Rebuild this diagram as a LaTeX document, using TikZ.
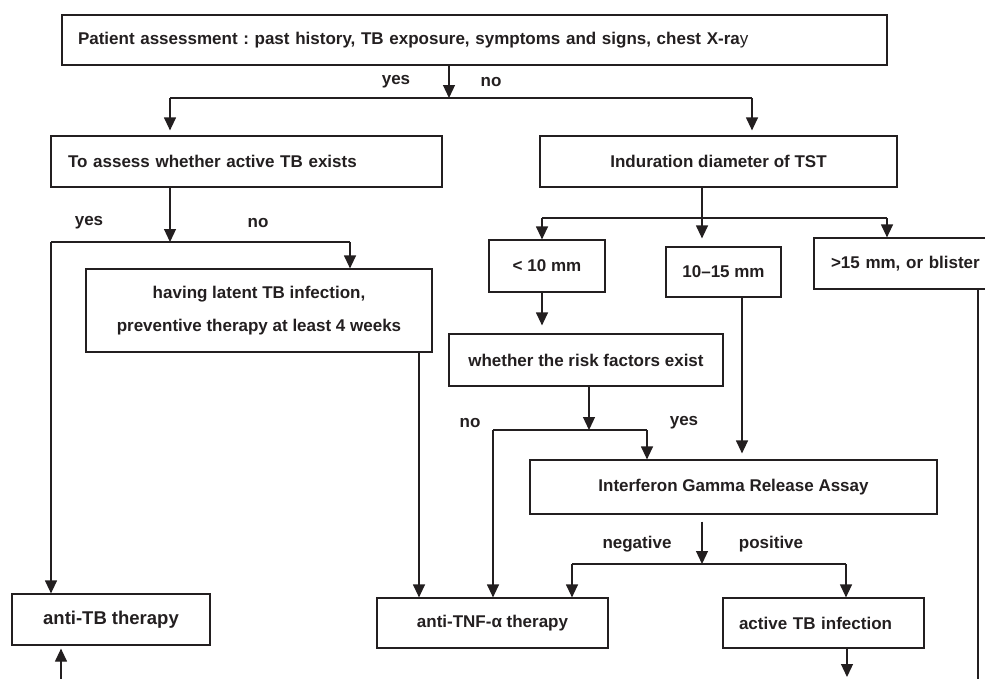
\documentclass[tikz,border=0pt]{standalone}
\usepackage{fontspec}
\setmainfont{Liberation Sans}
\usepackage{xcolor}
\usepackage{tikz}
\usetikzlibrary{arrows.meta}
\definecolor{ink}{RGB}{35,31,32}
\frenchspacing

\begin{document}
\begin{tikzpicture}[x=1pt,y=-1pt,
    box/.style={draw=ink,line width=1.2pt,inner sep=0pt,text=ink,align=center,
      font=\fontsize{17}{20}\selectfont\bfseries},
    lbl/.style={inner sep=0pt,text=ink,font=\fontsize{17}{20}\selectfont\bfseries},
    ln/.style={draw=ink,line width=1.2pt},
    arr/.style={ln,-{Triangle[length=13pt,width=12pt]}}]
      \useasboundingbox (0,0) rectangle (985,678);
      % boxes
      \node[box,align=left,inner xsep=16pt,text width=793pt,minimum height=50pt] (top) at (474.5,40)
        {Patient assessment : past history, TB exposure, symptoms and signs, chest X-ra{\mdseries y}};
      \node[box,align=left,inner xsep=17pt,text width=357pt,minimum height=51pt] (assess) at (246.5,161.5)
        {To assess whether active TB exists};
      \node[box,minimum width=357pt,minimum height=51pt] (tst) at (718.5,161.5) {Induration diameter of TST};
      \node[box,minimum width=116pt,minimum height=52pt] (lt10) at (547,266) {< 10 mm};
      \node[box,minimum width=115pt,minimum height=50pt] (mid) at (723.5,272) {10--15 mm};
      \node[box,align=left,inner xsep=17pt,text width=166pt,minimum height=51pt] (gt15) at (914,263.5)
        {>15 mm, or blister};
      \node[box,font=\fontsize{17}{33}\selectfont\bfseries,minimum width=346pt,minimum height=83pt] (prev) at (259,310.5)
        {having latent TB infection,\\preventive therapy at least 4 weeks};
      \node[box,minimum width=274pt,minimum height=52pt] (risk) at (586,360) {whether the risk factors exist};
      \node[box,minimum width=407pt,minimum height=54pt] (igra) at (733.5,487) {Interferon Gamma Release Assay};
      \node[box,font=\fontsize{18.5}{22}\selectfont\bfseries,minimum width=198pt,minimum height=51pt] (antitb) at (111,619.5)
        {anti-TB therapy};
      \node[box,minimum width=231pt,minimum height=50pt] (antitnf) at (492.5,623) {anti-TNF-α therapy};
      \node[box,align=left,inner xsep=16pt,text width=169pt,minimum height=50pt] (active) at (823.5,623)
        {active TB infection};

      % first split
      \coordinate (pa) at (449,98);
      \coordinate (pal) at (170,98);
      \coordinate (par) at (752,98);
      \draw[arr] (top.south -| pa) -- (pa);
      \draw[ln] (pal) -- (par);
      \draw[arr,shorten >=5pt] (pal) -- (assess.north -| pal);
      \draw[arr,shorten >=5pt] (par) -- (tst.north -| par);
      \node[lbl] (yes1) at (396,82) {yes};
      \node[lbl] (no1) at (491,82) {no};

      % active TB or not
      \coordinate (as) at (170,242);
      \coordinate (asl) at (51,242);
      \coordinate (asr) at (350,242);
      \draw[arr] (assess.south -| as) -- (as);
      \draw[ln] (asl) -- (asr);
      \draw[arr] (asl) -- (antitb.north -| asl);
      \draw[arr] (asr) -- (prev.north -| asr);
      \node[lbl] (yes2) at (89,223) {yes};
      \node[lbl] (no2) at (258,223) {no};
      \coordinate (pv) at (419,352);
      \draw[arr] (prev.south -| pv) -- (antitnf.north -| pv);

      % TST split
      \coordinate (ts) at (702,218);
      \coordinate (tsl) at (542,218);
      \coordinate (tsr) at (887,218);
      \draw[ln] (tst.south -| ts) -- (ts);
      \draw[ln] (tsl) -- (tsr);
      \draw[arr] (tsl) -- (lt10.north -| tsl);
      \draw[arr,shorten >=8pt] (ts) -- (mid.north -| ts);
      \draw[arr] (tsr) -- (gt15.north -| tsr);
      \draw[arr,shorten >=8pt] (lt10.south -| tsl) -- (risk.north -| tsl);

      % risk factors
      \coordinate (rk) at (589,430);
      \coordinate (rkl) at (493,430);
      \coordinate (rkr) at (647,430);
      \draw[arr] (risk.south -| rk) -- (rk);
      \draw[ln] (rkl) -- (rkr);
      \draw[arr] (rkl) -- (antitnf.north -| rkl);
      \draw[arr] (rkr) -- (igra.north -| rkr);
      \node[lbl] (no3) at (470,423) {no};
      \node[lbl] (yes3) at (684,423) {yes};
      \coordinate (md) at (742,300);
      \draw[arr,shorten >=6pt] (mid.south -| md) -- (igra.north -| md);
      \coordinate (gt) at (978,680);
      \draw[ln] (gt15.south -| gt) -- (gt);

      % IGRA result
      \coordinate (ig) at (702,564);
      \coordinate (igl) at (572,564);
      \coordinate (igr) at (846,564);
      \draw[arr,shorten <=7pt] (igra.south -| ig) -- (ig);
      \draw[ln] (igl) -- (igr);
      \draw[arr] (igl) -- (antitnf.north -| igl);
      \draw[arr] (igr) -- (active.north -| igr);
      \node[lbl] (neg) at (637,544) {negative};
      \node[lbl] (pos) at (771,544) {positive};

      % cut at the bottom
      \coordinate (ac) at (847,677);
      \draw[arr] (active.south -| ac) -- (ac);
      \coordinate (ab) at (61,680);
      \draw[arr,shorten >=3pt] (ab) -- (antitb.south -| ab);
    \end{tikzpicture}
\end{document}
